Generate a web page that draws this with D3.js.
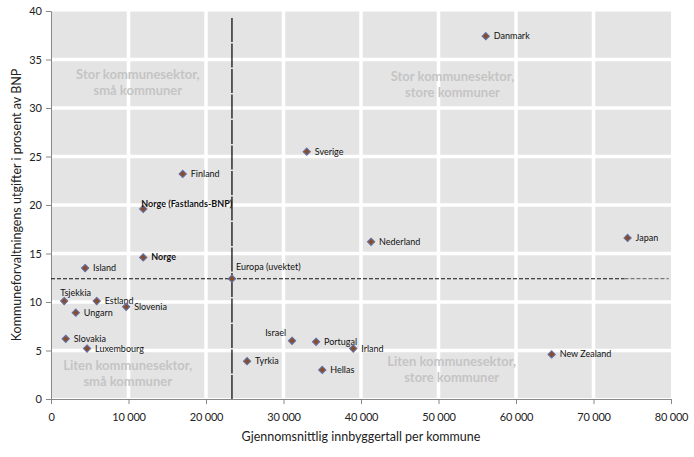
<!DOCTYPE html>
<html><head><meta charset="utf-8">
<script src="https://cdn.jsdelivr.net/npm/d3@7"></script>
<style>body{margin:0;background:#fff}svg{display:block}text{font-family:Lato,"Open Sans",sans-serif}</style>
</head><body><svg id="c" width="694" height="457"></svg>
<script>
const countries = ["Danmark","Sverige","Finland","Norge (Fastlands-BNP)","Nederland","Japan","Norge","Island","Europa (uvektet)","Tsjekkia","Estland","Slovenia","Ungarn","Slovakia","Luxembourg","Israel","Portugal","Irland","Tyrkia","Hellas","New Zealand"];
const innbyggere = [56100,33000,17000,11900,41300,74400,11900,4400,23350,1700,5900,9700,3200,1900,4650,31100,34200,39000,25300,35000,64600];
const utgifter = [37.4,25.5,23.2,19.6,16.2,16.6,14.6,13.5,12.4,10.1,10.1,9.5,8.9,6.2,5.2,6.0,5.9,5.2,3.9,3.0,4.6];
const labelPos = ["r","r","r","top","r","r","r","r","tr","tl","r","r","r","r","r","l","r","r","r","r","r"];
const boldLabels = ["Norge","Norge (Fastlands-BNP)"];
const xTicks = [0,10000,20000,30000,40000,50000,60000,70000,80000];
const yTicks = [0,5,10,15,20,25,30,35,40];
const quadrantText = [
  {lines:["Stor kommunesektor,","små kommuner"], x:11200, y:33.0},
  {lines:["Stor kommunesektor,","store kommuner"], x:51800, y:32.8},
  {lines:["Liten kommunesektor,","små kommuner"], x:9900, y:3.0},
  {lines:["Liten kommunesektor,","store kommuner"], x:51700, y:3.4}
];
const refX = 23350, refY = 12.4;

const W=694,H=457, m={l:51,r:23,t:11,b:58};
const svg=d3.select("#c");
const x=d3.scaleLinear().domain([0,80000]).range([m.l,W-m.r]);
const y=d3.scaleLinear().domain([0,40]).range([H-m.b,m.t]);

svg.append("rect").attr("x",x(0)+1).attr("y",y(40)).attr("width",x(80000)-x(0)-1).attr("height",y(0)-y(40)-1).attr("fill","#e4e4e4");
const g=svg.append("g");
g.selectAll(".gx").data(xTicks.slice(1,-1)).join("line").attr("x1",d=>x(d)).attr("x2",d=>x(d)).attr("y1",y(0)).attr("y2",y(40)).attr("stroke","#fff").attr("stroke-width",3.5);
g.selectAll(".gy").data(yTicks.slice(1,-1)).join("line").attr("y1",d=>y(d)).attr("y2",d=>y(d)).attr("x1",x(0)).attr("x2",x(80000)).attr("stroke","#fff").attr("stroke-width",3.5);
g.append("line").attr("x1",x(0)).attr("x2",x(80000)).attr("y1",y(40)).attr("y2",y(40)).attr("stroke","#fff").attr("stroke-width",1);

const fmt=d=>d===0?"0":d3.format(",")(d).replace(/,/g,"\u00A0");
const xa=svg.append("g").attr("transform",`translate(0,${y(0)})`).call(d3.axisBottom(x).tickValues(xTicks).tickFormat(fmt).tickSizeOuter(0).tickSize(5));
const ya=svg.append("g").attr("transform",`translate(${x(0)},0)`).call(d3.axisLeft(y).tickValues(yTicks).tickSizeOuter(0).tickSize(5));
[xa,ya].forEach(a=>{a.select(".domain").attr("stroke","#888");a.selectAll(".tick line").attr("stroke","#888");a.selectAll("text").attr("font-size",11).attr("fill","#222").style("font-family","Lato,sans-serif");});
xa.selectAll("text").attr("dy","1.3em").attr("letter-spacing","-0.2");
ya.selectAll("text").attr("dx","-1");

quadrantText.forEach(q=>{
  const t=svg.append("text").attr("x",x(q.x)).attr("y",y(q.y)).attr("text-anchor","middle").attr("font-size",13).attr("font-weight","bold").attr("fill","#c4c4c4");
  q.lines.forEach((l,i)=>t.append("tspan").attr("x",x(q.x)).attr("dy",i?16:0).text(l));
});

svg.append("line").attr("x1",x(refX)).attr("x2",x(refX)).attr("y1",y(0)).attr("y2",y(39.4)).attr("stroke","#000").attr("stroke-width",1.2).attr("stroke-dasharray","24,1.5");
svg.append("line").attr("x1",x(0)).attr("x2",x(74000)).attr("y1",y(refY)).attr("y2",y(refY)).attr("stroke","#111").attr("stroke-width",1.1).attr("stroke-dasharray","4,2");
svg.append("line").attr("x1",x(74000)).attr("x2",x(79700)).attr("y1",y(refY)).attr("y2",y(refY)).attr("stroke","#777").attr("stroke-width",1.3).attr("stroke-dasharray","4,2");

const data=countries.map((c,i)=>({c,x:innbyggere[i],y:utgifter[i],p:labelPos[i]}));
const pts=svg.selectAll(".pt").data(data).join("g").attr("transform",d=>`translate(${x(d.x)},${y(d.y)})`);
pts.append("path").attr("d","M0,-3.6L3.6,0L0,3.6L-3.6,0Z").attr("fill","#8a4b2c").attr("stroke","#6270a0").attr("stroke-width",1.1);
pts.append("text").text(d=>d.c).attr("font-size",9).attr("fill","#111")
  .attr("font-weight",d=>boldLabels.includes(d.c)?"bold":"normal")
  .attr("x",d=>d.p==="r"?8:d.p==="top"?-2:d.p==="tr"?4:d.p==="tl"?-4:-6)
  .attr("y",d=>d.p==="r"?3:d.p==="top"?-2:d.p==="tr"?-9:d.p==="tl"?-5:-5)
  .attr("text-anchor",d=>d.p==="l"?"end":"start");

svg.append("text").attr("x",(x(0)+x(80000))/2).attr("y",441).attr("text-anchor","middle").attr("font-size",12.5).attr("fill","#222").text("Gjennomsnittlig innbyggertall per kommune");
svg.append("text").attr("transform",`translate(21,${(y(0)+y(40))/2}) rotate(-90)`).attr("text-anchor","middle").attr("font-size",12.5).attr("fill","#222").text("Kommuneforvaltningens utgifter i prosent av BNP");
</script></body></html>
